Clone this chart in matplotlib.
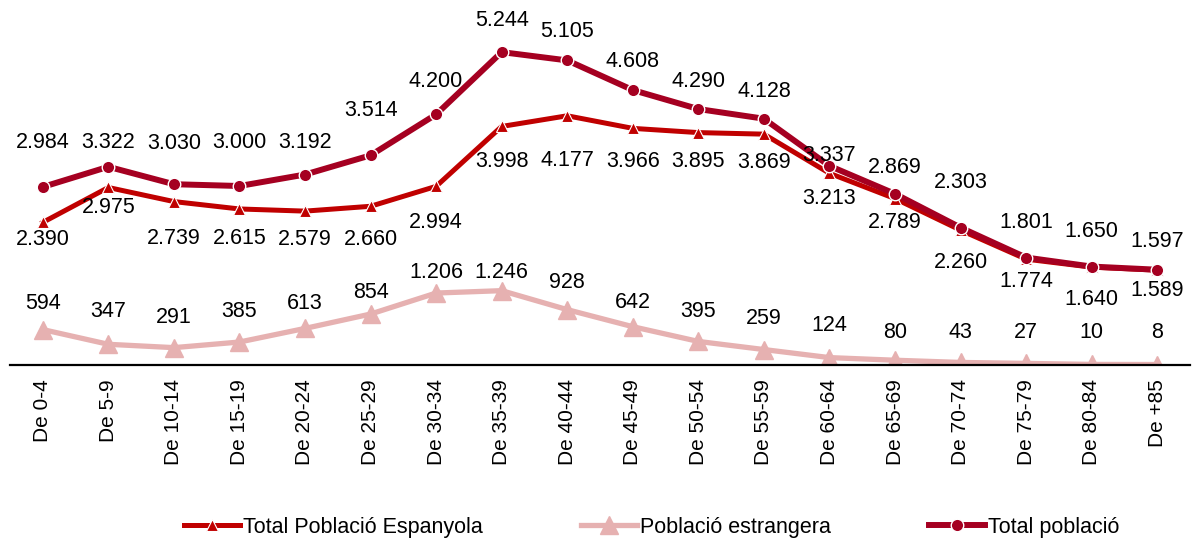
import numpy as np
import matplotlib.pyplot as plt

plt.rcParams['font.family'] = ['Liberation Sans', 'DejaVu Sans']

grups = ["De 0-4", "De 5-9", "De 10-14", "De 15-19", "De 20-24", "De 25-29",
         "De 30-34", "De 35-39", "De 40-44", "De 45-49", "De 50-54", "De 55-59",
         "De 60-64", "De 65-69", "De 70-74", "De 75-79", "De 80-84", "De +85"]
espanyola = [2390, 2975, 2739, 2615, 2579, 2660, 2994, 3998, 4177, 3966,
             3895, 3869, 3213, 2789, 2260, 1774, 1640, 1589]
estrangera = [594, 347, 291, 385, 613, 854, 1206, 1246, 928, 642,
              395, 259, 124, 80, 43, 27, 10, 8]
total = [2984, 3322, 3030, 3000, 3192, 3514, 4200, 5244, 5105, 4608,
         4290, 4128, 3337, 2869, 2303, 1801, 1650, 1597]

# label offsets in pixels (positive = up)
off_total = [44, 24, 41, 43, 32, 45, 33, 32, 29, 29, 28, 27, 10, 26, 45, 35, 35, 28]
off_esp = [-17, -20, -37, -30, -28, -33, -36, -35, -45, -33, -29, -28, -25, -24, -32, -22, -32, -20]
off_estr = [26, 33, 30, 31, 25, 22, 21, 18, 27, 24, 30, 31, 32, 28, 30, 31, 32, 32]

c_total = '#A50021'
c_esp = '#C00000'
c_estr = '#E6B1B1'

fig = plt.figure(figsize=(11.98, 5.41), dpi=100)
ax = fig.add_axes([10 / 1198, 1 - 365 / 541, 1180 / 1198, 358 / 541])
x = np.arange(len(grups))

ax.plot(x, espanyola, color=c_esp, lw=3.6, marker='^', ms=9,
        mfc=c_esp, mec='white', mew=0.8, label='Total Població Espanyola', zorder=3)
ax.plot(x, estrangera, color=c_estr, lw=3.8, marker='^', ms=13,
        mfc=c_estr, mec=c_estr, label='Població estrangera', zorder=2)
ax.plot(x, total, color=c_total, lw=4.3, marker='o', ms=9,
        mfc=c_total, mec='white', mew=1.0, label='Total població', zorder=4)

def fmt(v):
    return f"{v:,}".replace(',', '.')

for vals, offs in ((total, off_total), (espanyola, off_esp), (estrangera, off_estr)):
    for xi, v, o in zip(x, vals, offs):
        ax.annotate(fmt(v), (xi, v), xytext=(0, o), textcoords='offset pixels',
                    ha='center', va='center', fontsize=15.5, color='black', zorder=5)

ax.set_xlim(-0.5, len(grups) - 0.5)
ax.set_ylim(0, 6000)
ax.set_xticks(x)
ax.set_xticklabels(grups, rotation=90, fontsize=15)
ax.tick_params(axis='x', length=0, pad=10)
ax.set_yticks([])
for s in ['top', 'right', 'left']:
    ax.spines[s].set_visible(False)
ax.spines['bottom'].set_linewidth(1.6)
ax.spines['bottom'].set_color('black')

fig.legend(loc='lower center', bbox_to_anchor=(0.544, -0.03), ncol=3, frameon=False,
           fontsize=15.5, handlelength=2.6, handletextpad=0.1, columnspacing=4.6)

fig.savefig('out.png', dpi=100)
